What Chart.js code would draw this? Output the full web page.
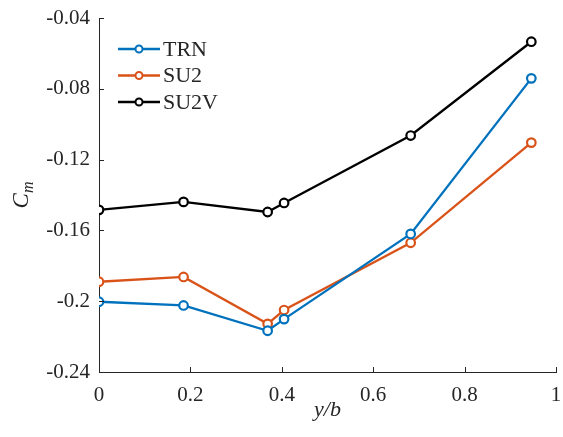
<!DOCTYPE html>
<html>
<head>
<meta charset="utf-8">
<script src="https://cdn.jsdelivr.net/npm/chart.js@4.4.0/dist/chart.umd.min.js"></script>
<style>
  html, body { margin: 0; padding: 0; background: #fff; }
  #wrap { width: 563px; height: 437px; }
</style>
</head>
<body>
<div id="wrap"><canvas id="cm"></canvas></div>
<script>
// posições ao longo da envergadura (y/b)
var spanPos = [0, 0.185, 0.369, 0.405, 0.682, 0.946];
var trn  = [-0.2003, -0.2024, -0.2167, -0.2101, -0.1620, -0.0741];
var su2  = [-0.1890, -0.1863, -0.2128, -0.2050, -0.1670, -0.1104];
var su2v = [-0.1484, -0.1439, -0.1496, -0.1445, -0.1064, -0.0534];
var yTicks = [-0.24, -0.2, -0.16, -0.12, -0.08, -0.04];
var yTickLabels = ['-0.24', '-0.2', '-0.16', '-0.12', '-0.08', '-0.04'];
var xTicks = [0, 0.2, 0.4, 0.6, 0.8, 1];
var xTickLabels = ['0', '0.2', '0.4', '0.6', '0.8', '1'];

var serif = '"Liberation Serif", "Times New Roman", serif';
var axisCol = '#262626';

function pts(vals) {
    return vals.map(function(v, i) { return { x: spanPos[i], y: v }; });
}

function serie(label, vals, cor) {
    return {
        label: label,
        data: pts(vals),
        borderColor: cor,
        backgroundColor: '#fff',
        borderWidth: 2.3,
        pointRadius: 4.3,
        pointBorderWidth: 2.2,
        pointBackgroundColor: '#fff',
        pointBorderColor: cor,
        tension: 0
    };
}

// ticks para dentro, legenda e títulos dos eixos (estilo MATLAB)
var extras = {
    id: 'extras',
    afterDraw: function(chart) {
        var ctx = chart.ctx, a = chart.chartArea;
        var xs = chart.scales.x, ys = chart.scales.y;
        ctx.save();
        ctx.strokeStyle = axisCol;
        ctx.lineWidth = 1;
        ctx.beginPath();
        xTicks.forEach(function(t) {
            var px = Math.round(xs.getPixelForValue(t)) + 0.5;
            ctx.moveTo(px, a.bottom); ctx.lineTo(px, a.bottom - 5);
        });
        yTicks.forEach(function(t) {
            var py = Math.round(ys.getPixelForValue(t)) + 0.5;
            ctx.moveTo(a.left, py); ctx.lineTo(a.left + 5, py);
        });
        ctx.stroke();

        // legenda
        var rows = [49, 75.5, 102];
        chart.data.datasets.forEach(function(ds, i) {
            var y = rows[i];
            ctx.strokeStyle = ds.borderColor;
            ctx.lineWidth = 2.3;
            ctx.beginPath();
            ctx.moveTo(118, y); ctx.lineTo(160, y);
            ctx.stroke();
            ctx.lineWidth = 2;
            ctx.beginPath();
            ctx.arc(139, y, 3.5, 0, Math.PI * 2);
            ctx.fillStyle = '#fff';
            ctx.fill();
            ctx.stroke();
            ctx.fillStyle = axisCol;
            ctx.font = '22px ' + serif;
            ctx.textAlign = 'left';
            ctx.textBaseline = 'middle';
            ctx.fillText(ds.label, 163, y + 1);
        });

        // título eixo x
        ctx.fillStyle = axisCol;
        ctx.font = 'italic 22px ' + serif;
        ctx.textAlign = 'center';
        ctx.textBaseline = 'alphabetic';
        ctx.fillText('y/b', (a.left + a.right) / 2, 416);

        // título eixo y: C_m
        ctx.translate(28, 195);
        ctx.rotate(-Math.PI / 2);
        ctx.textAlign = 'left';
        ctx.font = 'italic 23px ' + serif;
        var w = ctx.measureText('C').width;
        ctx.font = 'italic 16px ' + serif;
        var wm = ctx.measureText('m').width;
        var x0 = -(w + wm) / 2;
        ctx.font = 'italic 23px ' + serif;
        ctx.fillText('C', x0, 0);
        ctx.font = 'italic 16px ' + serif;
        ctx.fillText('m', x0 + w, 5);
        ctx.restore();
    }
};

var chart = new Chart(document.getElementById('cm'), {
    type: 'line',
    data: {
        datasets: [
            serie('TRN', trn, '#0072BD'),
            serie('SU2', su2, '#D95319'),
            serie('SU2V', su2v, '#000000')
        ]
    },
    options: {
        responsive: true,
        maintainAspectRatio: false,
        animation: false,
        layout: { padding: { top: 18, right: 7, left: 0, bottom: 0 } },
        plugins: { legend: { display: false }, tooltip: { enabled: false } },
        scales: {
            x: {
                type: 'linear',
                min: 0, max: 1,
                afterFit: function(s) { s.height = 65; s.paddingLeft = 0; s.paddingRight = 0; },
                afterBuildTicks: function(s) { s.ticks = xTicks.map(function(v) { return { value: v }; }); },
                ticks: {
                    autoSkip: false, maxRotation: 0, padding: 11,
                    color: axisCol,
                    font: { family: serif, size: 21 },
                    callback: function(v) { return xTickLabels[xTicks.indexOf(v)]; }
                },
                grid: { display: false, drawTicks: false },
                border: { display: true, color: axisCol, width: 1 }
            },
            y: {
                type: 'linear',
                min: -0.24, max: -0.04,
                afterFit: function(s) { s.width = 99; s.paddingTop = 0; s.paddingBottom = 0; },
                afterBuildTicks: function(s) { s.ticks = yTicks.map(function(v) { return { value: v }; }); },
                ticks: {
                    autoSkip: false, padding: 9,
                    color: axisCol,
                    font: { family: serif, size: 21 },
                    callback: function(v) {
                        for (var i = 0; i < yTicks.length; i++) {
                            if (Math.abs(yTicks[i] - v) < 1e-9) return yTickLabels[i];
                        }
                        return '';
                    }
                },
                grid: { display: false, drawTicks: false },
                border: { display: true, color: axisCol, width: 1 }
            }
        }
    },
    plugins: [extras]
});
</script>
</body>
</html>
